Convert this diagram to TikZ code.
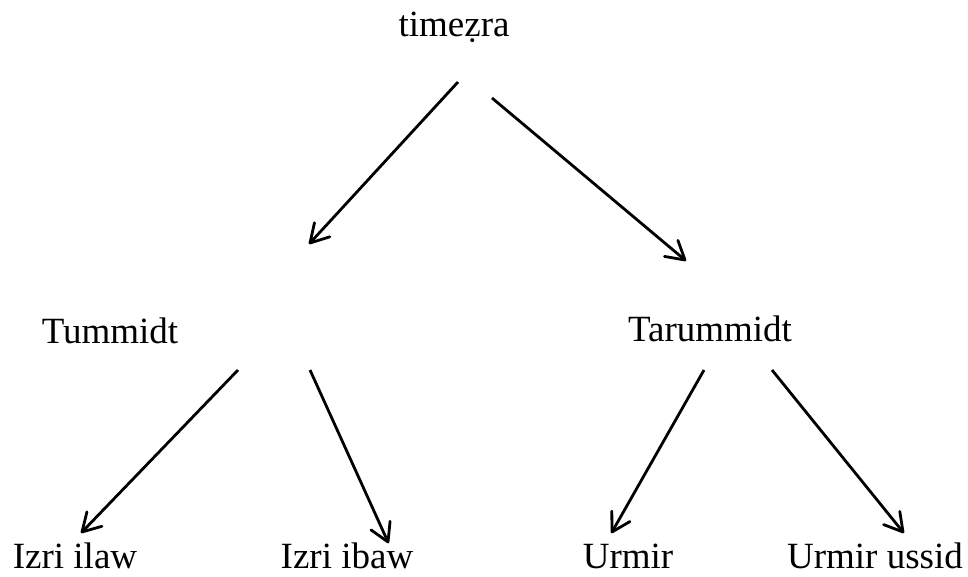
\documentclass[tikz,border=0pt]{standalone}
\usepackage{fontspec}
\setmainfont{Liberation Serif}
\usetikzlibrary{arrows.meta}
\pgfdeclarearrow{
  name = MyVee,
  parameters = {\the\pgfarrowlength},
  setup code = {
    \pgfarrowssettipend{0pt}
    \pgfarrowssetlineend{-1.5pt}
    \pgfarrowsupperhullpoint{-\pgfarrowlength}{0.58\pgfarrowlength}
    \pgfarrowshullpoint{0pt}{0pt}
    \pgfarrowssavethe\pgfarrowlength
  },
  drawing code = {
    \pgfsetroundjoin
    \pgfsetroundcap
    \pgfpathmoveto{\pgfpoint{-\pgfarrowlength}{0.58\pgfarrowlength}}
    \pgfpathlineto{\pgfpointorigin}
    \pgfpathlineto{\pgfpoint{-\pgfarrowlength}{-0.58\pgfarrowlength}}
    \pgfusepathqstroke
  },
  defaults = {length = 17pt}
}
\tikzset{
  lbl/.style={anchor=base, inner sep=0pt, font=\fontsize{37}{44}\selectfont},
  arr/.style={line width=2.8pt, -{MyVee[length=18pt]}}
}
\begin{document}
\begin{tikzpicture}[x=1pt,y=1pt]
\useasboundingbox (0,0) rectangle (968,576);
\node[lbl] (root) at (454,539) {timeẓra};
\node[lbl] (tum) at (110,233) {Tummidt};
\node[lbl] (tar) at (710,234) {Tarummidt};
\node[lbl] (il) at (75,8) {Izri ilaw};
\node[lbl] (ib) at (347,8) {Izri ibaw};
\node[lbl] (ur) at (628,8) {Urmir};
\node[lbl] (us) at (875,8) {Urmir ussid};
\coordinate (r1) at (458,494);
\coordinate (r1e) at (310,333);
\coordinate (r2) at (492,478);
\coordinate (r2e) at (685,316);
\coordinate (a1) at (238,206);
\coordinate (a1e) at (82,44);
\coordinate (a2) at (310,206);
\coordinate (a2e) at (388,34);
\coordinate (b1) at (704,206);
\coordinate (b1e) at (612,44);
\coordinate (b2) at (772,206);
\coordinate (b2e) at (903,44);
\draw[arr] (r1) -- (r1e);
\draw[arr] (r2) -- (r2e);
\draw[arr] (a1) -- (a1e);
\draw[arr] (a2) -- (a2e);
\draw[arr] (b1) -- (b1e);
\draw[arr] (b2) -- (b2e);
\end{tikzpicture}
\end{document}
